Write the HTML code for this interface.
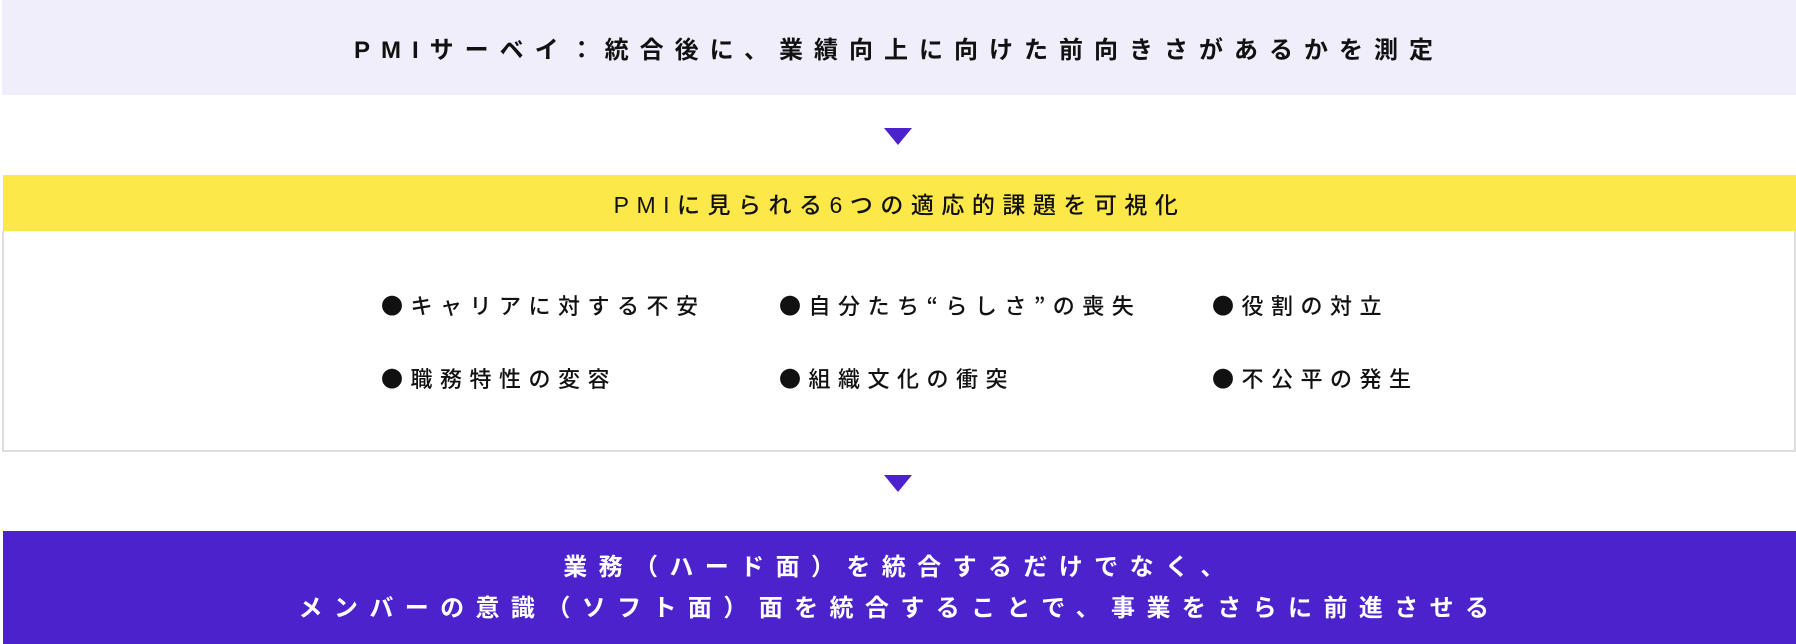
<!DOCTYPE html>
<html><head><meta charset="utf-8"><style>
*{margin:0;padding:0;box-sizing:border-box}
body{width:1796px;height:644px;background:#fff;position:relative;overflow:hidden;font-family:"Liberation Sans","Noto Sans CJK JP",sans-serif;font-weight:bold;color:#111}
.abs{position:absolute}
.top{left:2px;top:0;width:1794px;height:95px;background:#f1eefc;display:flex;align-items:center;justify-content:center;font-size:24px;letter-spacing:11px}
.tri{width:0;height:0;border-left:14px solid transparent;border-right:14px solid transparent;border-top:17px solid #4b22cc;left:884px}
.yel{left:3px;top:175px;width:1793px;height:56px;background:#fde84a;display:flex;align-items:center;justify-content:center;font-size:23px;letter-spacing:7.5px;font-weight:500;color:#111}
.box{left:2px;top:231px;width:1794px;height:221px;border:2px solid #ddd;border-top:none}
.it{font-size:22px;letter-spacing:7.5px;font-weight:500;white-space:nowrap;line-height:30px;font-family:"Noto Sans CJK JP",sans-serif}
.pur{left:3px;top:531px;width:1793px;height:113px;background:#4b22cc;color:#fff;display:flex;flex-direction:column;align-items:center;justify-content:center;font-size:24px;letter-spacing:11.4px;line-height:41px}
</style></head><body>
<div class="abs top">PMIサーベイ：統合後に、業績向上に向けた前向きさがあるかを測定</div>
<div class="abs tri" style="top:128px"></div>
<div class="abs yel">PMIに見られる6つの適応的課題を可視化</div>
<div class="abs box"></div>
<div class="abs it" style="left:381px;top:290px">●キャリアに対する不安</div>
<div class="abs it" style="left:779px;top:290px">●自分たち“らしさ”の喪失</div>
<div class="abs it" style="left:1212px;top:290px">●役割の対立</div>
<div class="abs it" style="left:381px;top:363px">●職務特性の変容</div>
<div class="abs it" style="left:779px;top:363px">●組織文化の衝突</div>
<div class="abs it" style="left:1212px;top:363px">●不公平の発生</div>
<div class="abs tri" style="top:475px"></div>
<div class="abs pur"><div>業務（ハード面）を統合するだけでなく、</div><div>メンバーの意識（ソフト面）面を統合することで、事業をさらに前進させる</div></div>
</body></html>
